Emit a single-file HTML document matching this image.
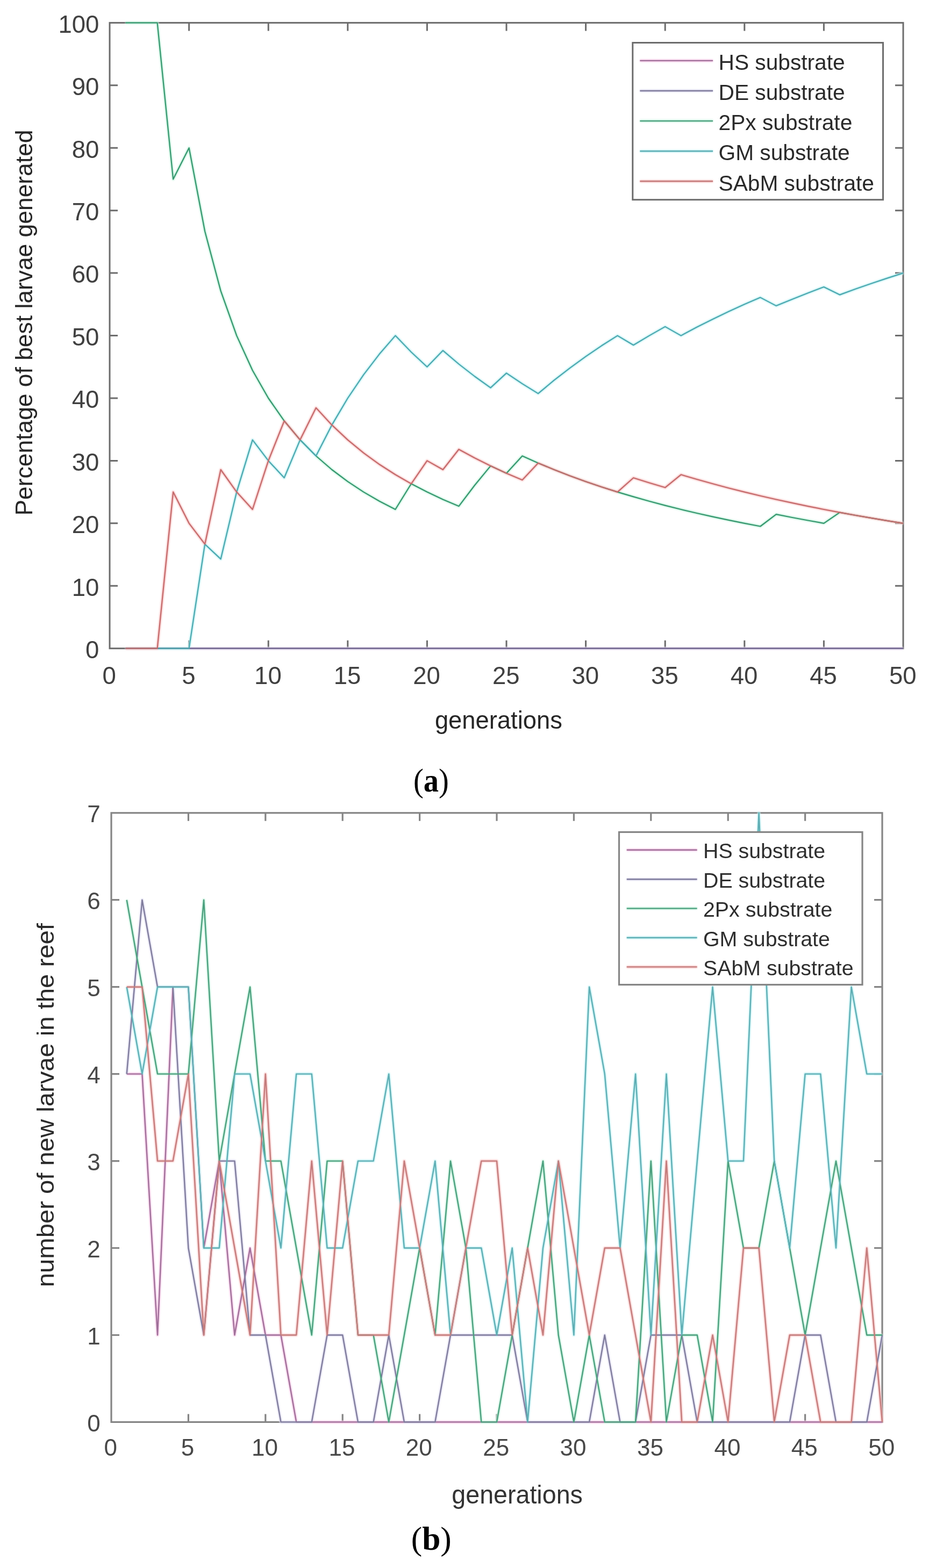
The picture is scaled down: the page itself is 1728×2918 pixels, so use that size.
<!DOCTYPE html><html><head><meta charset="utf-8"><title>Figure</title><style>html,body{margin:0;padding:0;background:#fff;}svg{display:block;}text{font-family:"Liberation Sans",Arial,sans-serif;}</style></head><body>
<svg width="1728" height="2918" viewBox="0 0 1728 2918">
<defs><filter id="hb" filterUnits="userSpaceOnUse" x="0" y="0" width="1728" height="2918"><feGaussianBlur stdDeviation="1.3"/></filter><filter id="cb" filterUnits="userSpaceOnUse" x="0" y="0" width="1728" height="2918"><feGaussianBlur stdDeviation="0.70"/></filter></defs>
<rect x="0" y="0" width="1728" height="2918" fill="#ffffff"/>
<rect x="204.0" y="42.4" width="1476.0" height="1164.3" fill="none" stroke="#6c6c6c" stroke-width="3.0"/>
<path d="M351.6 1206.7v-15.0M351.6 42.4v15.0M499.2 1206.7v-15.0M499.2 42.4v15.0M646.8 1206.7v-15.0M646.8 42.4v15.0M794.4 1206.7v-15.0M794.4 42.4v15.0M942.0 1206.7v-15.0M942.0 42.4v15.0M1089.6 1206.7v-15.0M1089.6 42.4v15.0M1237.2 1206.7v-15.0M1237.2 42.4v15.0M1384.8 1206.7v-15.0M1384.8 42.4v15.0M1532.4 1206.7v-15.0M1532.4 42.4v15.0M204.0 1090.3h15.0M1680.0 1090.3h-15.0M204.0 973.8h15.0M1680.0 973.8h-15.0M204.0 857.4h15.0M1680.0 857.4h-15.0M204.0 741.0h15.0M1680.0 741.0h-15.0M204.0 624.6h15.0M1680.0 624.6h-15.0M204.0 508.1h15.0M1680.0 508.1h-15.0M204.0 391.7h15.0M1680.0 391.7h-15.0M204.0 275.3h15.0M1680.0 275.3h-15.0M204.0 158.8h15.0M1680.0 158.8h-15.0" stroke="#6c6c6c" stroke-width="3.0" fill="none"/>
<g filter="url(#hb)">
<polyline points="233.5,1206.7 263.0,1206.7 292.6,1206.7 322.1,1206.7 351.6,1206.7 381.1,1206.7 410.6,1206.7 440.2,1206.7 469.7,1206.7 499.2,1206.7 528.7,1206.7 558.2,1206.7 587.8,1206.7 617.3,1206.7 646.8,1206.7 676.3,1206.7 705.8,1206.7 735.4,1206.7 764.9,1206.7 794.4,1206.7 823.9,1206.7 853.4,1206.7 883.0,1206.7 912.5,1206.7 942.0,1206.7 971.5,1206.7 1001.0,1206.7 1030.6,1206.7 1060.1,1206.7 1089.6,1206.7 1119.1,1206.7 1148.6,1206.7 1178.2,1206.7 1207.7,1206.7 1237.2,1206.7 1266.7,1206.7 1296.2,1206.7 1325.8,1206.7 1355.3,1206.7 1384.8,1206.7 1414.3,1206.7 1443.8,1206.7 1473.4,1206.7 1502.9,1206.7 1532.4,1206.7 1561.9,1206.7 1591.4,1206.7 1621.0,1206.7 1650.5,1206.7 1680.0,1206.7" fill="none" stroke="#f6c8e6" stroke-width="5.00" stroke-linejoin="round"/>
<polyline points="233.5,1206.7 263.0,1206.7 292.6,1206.7 322.1,1206.7 351.6,1206.7 381.1,1206.7 410.6,1206.7 440.2,1206.7 469.7,1206.7 499.2,1206.7 528.7,1206.7 558.2,1206.7 587.8,1206.7 617.3,1206.7 646.8,1206.7 676.3,1206.7 705.8,1206.7 735.4,1206.7 764.9,1206.7 794.4,1206.7 823.9,1206.7 853.4,1206.7 883.0,1206.7 912.5,1206.7 942.0,1206.7 971.5,1206.7 1001.0,1206.7 1030.6,1206.7 1060.1,1206.7 1089.6,1206.7 1119.1,1206.7 1148.6,1206.7 1178.2,1206.7 1207.7,1206.7 1237.2,1206.7 1266.7,1206.7 1296.2,1206.7 1325.8,1206.7 1355.3,1206.7 1384.8,1206.7 1414.3,1206.7 1443.8,1206.7 1473.4,1206.7 1502.9,1206.7 1532.4,1206.7 1561.9,1206.7 1591.4,1206.7 1621.0,1206.7 1650.5,1206.7 1680.0,1206.7" fill="none" stroke="#dedbf0" stroke-width="5.00" stroke-linejoin="round"/>
<polyline points="233.5,42.4 263.0,42.4 292.6,42.4 322.1,333.5 351.6,275.3 381.1,430.5 410.6,541.4 440.2,624.6 469.7,689.2 499.2,741.0 528.7,783.3 558.2,818.6 587.8,848.5 617.3,874.0 646.8,896.2 676.3,915.6 705.8,932.7 735.4,948.0 764.9,900.3 794.4,915.6 823.9,929.5 853.4,942.1 883.0,903.0 912.5,867.1 942.0,880.7 971.5,848.5 1001.0,861.7 1030.6,874.0 1060.1,885.5 1089.6,896.2 1119.1,906.2 1148.6,915.6 1178.2,924.4 1207.7,932.7 1237.2,940.6 1266.7,948.0 1296.2,955.0 1325.8,961.6 1355.3,967.9 1384.8,973.8 1414.3,979.5 1443.8,957.2 1473.4,963.0 1502.9,968.5 1532.4,973.8 1561.9,953.6 1591.4,959.0 1621.0,964.1 1650.5,969.1 1680.0,973.8" fill="none" stroke="#c4f2dc" stroke-width="5.00" stroke-linejoin="round"/>
<polyline points="233.5,1206.7 263.0,1206.7 292.6,1206.7 322.1,1206.7 351.6,1206.7 381.1,1012.7 410.6,1040.4 440.2,915.6 469.7,818.6 499.2,857.4 528.7,889.2 558.2,818.6 587.8,848.5 617.3,790.9 646.8,741.0 676.3,697.3 705.8,658.8 735.4,624.6 764.9,655.2 794.4,682.8 823.9,652.3 853.4,677.5 883.0,700.5 912.5,721.6 942.0,694.4 971.5,714.1 1001.0,732.4 1030.6,707.7 1060.1,684.8 1089.6,663.4 1119.1,643.3 1148.6,624.6 1178.2,642.2 1207.7,624.6 1237.2,607.9 1266.7,624.6 1296.2,608.8 1325.8,593.9 1355.3,579.8 1384.8,566.3 1414.3,553.6 1443.8,569.1 1473.4,556.9 1502.9,545.2 1532.4,534.0 1561.9,548.6 1591.4,537.8 1621.0,527.5 1650.5,517.6 1680.0,508.1" fill="none" stroke="#c0f0f3" stroke-width="5.00" stroke-linejoin="round"/>
<polyline points="233.5,1206.7 263.0,1206.7 292.6,1206.7 322.1,915.6 351.6,973.8 381.1,1012.7 410.6,874.0 440.2,915.6 469.7,948.0 499.2,857.4 528.7,783.3 558.2,818.6 587.8,758.9 617.3,790.9 646.8,818.6 676.3,842.9 705.8,864.3 735.4,883.3 764.9,900.3 794.4,857.4 823.9,874.0 853.4,836.2 883.0,852.3 912.5,867.1 942.0,880.7 971.5,893.2 1001.0,861.7 1030.6,874.0 1060.1,885.5 1089.6,896.2 1119.1,906.2 1148.6,915.6 1178.2,889.2 1207.7,898.5 1237.2,907.3 1266.7,883.3 1296.2,892.0 1325.8,900.3 1355.3,908.2 1384.8,915.6 1414.3,922.7 1443.8,929.5 1473.4,935.9 1502.9,942.1 1532.4,948.0 1561.9,953.6 1591.4,959.0 1621.0,964.1 1650.5,969.1 1680.0,973.8" fill="none" stroke="#f8c6c6" stroke-width="5.00" stroke-linejoin="round"/>
</g>
<polyline points="233.5,1206.7 263.0,1206.7 292.6,1206.7 322.1,1206.7 351.6,1206.7 381.1,1206.7 410.6,1206.7 440.2,1206.7 469.7,1206.7 499.2,1206.7 528.7,1206.7 558.2,1206.7 587.8,1206.7 617.3,1206.7 646.8,1206.7 676.3,1206.7 705.8,1206.7 735.4,1206.7 764.9,1206.7 794.4,1206.7 823.9,1206.7 853.4,1206.7 883.0,1206.7 912.5,1206.7 942.0,1206.7 971.5,1206.7 1001.0,1206.7 1030.6,1206.7 1060.1,1206.7 1089.6,1206.7 1119.1,1206.7 1148.6,1206.7 1178.2,1206.7 1207.7,1206.7 1237.2,1206.7 1266.7,1206.7 1296.2,1206.7 1325.8,1206.7 1355.3,1206.7 1384.8,1206.7 1414.3,1206.7 1443.8,1206.7 1473.4,1206.7 1502.9,1206.7 1532.4,1206.7 1561.9,1206.7 1591.4,1206.7 1621.0,1206.7 1650.5,1206.7 1680.0,1206.7" fill="none" stroke="#a8659a" stroke-width="2.20" stroke-linejoin="round"/>
<polyline points="233.5,1206.7 263.0,1206.7 292.6,1206.7 322.1,1206.7 351.6,1206.7 381.1,1206.7 410.6,1206.7 440.2,1206.7 469.7,1206.7 499.2,1206.7 528.7,1206.7 558.2,1206.7 587.8,1206.7 617.3,1206.7 646.8,1206.7 676.3,1206.7 705.8,1206.7 735.4,1206.7 764.9,1206.7 794.4,1206.7 823.9,1206.7 853.4,1206.7 883.0,1206.7 912.5,1206.7 942.0,1206.7 971.5,1206.7 1001.0,1206.7 1030.6,1206.7 1060.1,1206.7 1089.6,1206.7 1119.1,1206.7 1148.6,1206.7 1178.2,1206.7 1207.7,1206.7 1237.2,1206.7 1266.7,1206.7 1296.2,1206.7 1325.8,1206.7 1355.3,1206.7 1384.8,1206.7 1414.3,1206.7 1443.8,1206.7 1473.4,1206.7 1502.9,1206.7 1532.4,1206.7 1561.9,1206.7 1591.4,1206.7 1621.0,1206.7 1650.5,1206.7 1680.0,1206.7" fill="none" stroke="#6f6c92" stroke-width="2.20" stroke-linejoin="round"/>
<polyline points="233.5,42.4 263.0,42.4 292.6,42.4 322.1,333.5 351.6,275.3 381.1,430.5 410.6,541.4 440.2,624.6 469.7,689.2 499.2,741.0 528.7,783.3 558.2,818.6 587.8,848.5 617.3,874.0 646.8,896.2 676.3,915.6 705.8,932.7 735.4,948.0 764.9,900.3 794.4,915.6 823.9,929.5 853.4,942.1 883.0,903.0 912.5,867.1 942.0,880.7 971.5,848.5 1001.0,861.7 1030.6,874.0 1060.1,885.5 1089.6,896.2 1119.1,906.2 1148.6,915.6 1178.2,924.4 1207.7,932.7 1237.2,940.6 1266.7,948.0 1296.2,955.0 1325.8,961.6 1355.3,967.9 1384.8,973.8 1414.3,979.5 1443.8,957.2 1473.4,963.0 1502.9,968.5 1532.4,973.8 1561.9,953.6 1591.4,959.0 1621.0,964.1 1650.5,969.1 1680.0,973.8" fill="none" stroke="#35966e" stroke-width="2.20" stroke-linejoin="round"/>
<polyline points="233.5,1206.7 263.0,1206.7 292.6,1206.7 322.1,1206.7 351.6,1206.7 381.1,1012.7 410.6,1040.4 440.2,915.6 469.7,818.6 499.2,857.4 528.7,889.2 558.2,818.6 587.8,848.5 617.3,790.9 646.8,741.0 676.3,697.3 705.8,658.8 735.4,624.6 764.9,655.2 794.4,682.8 823.9,652.3 853.4,677.5 883.0,700.5 912.5,721.6 942.0,694.4 971.5,714.1 1001.0,732.4 1030.6,707.7 1060.1,684.8 1089.6,663.4 1119.1,643.3 1148.6,624.6 1178.2,642.2 1207.7,624.6 1237.2,607.9 1266.7,624.6 1296.2,608.8 1325.8,593.9 1355.3,579.8 1384.8,566.3 1414.3,553.6 1443.8,569.1 1473.4,556.9 1502.9,545.2 1532.4,534.0 1561.9,548.6 1591.4,537.8 1621.0,527.5 1650.5,517.6 1680.0,508.1" fill="none" stroke="#4aa7ae" stroke-width="2.20" stroke-linejoin="round"/>
<polyline points="233.5,1206.7 263.0,1206.7 292.6,1206.7 322.1,915.6 351.6,973.8 381.1,1012.7 410.6,874.0 440.2,915.6 469.7,948.0 499.2,857.4 528.7,783.3 558.2,818.6 587.8,758.9 617.3,790.9 646.8,818.6 676.3,842.9 705.8,864.3 735.4,883.3 764.9,900.3 794.4,857.4 823.9,874.0 853.4,836.2 883.0,852.3 912.5,867.1 942.0,880.7 971.5,893.2 1001.0,861.7 1030.6,874.0 1060.1,885.5 1089.6,896.2 1119.1,906.2 1148.6,915.6 1178.2,889.2 1207.7,898.5 1237.2,907.3 1266.7,883.3 1296.2,892.0 1325.8,900.3 1355.3,908.2 1384.8,915.6 1414.3,922.7 1443.8,929.5 1473.4,935.9 1502.9,942.1 1532.4,948.0 1561.9,953.6 1591.4,959.0 1621.0,964.1 1650.5,969.1 1680.0,973.8" fill="none" stroke="#c46a6b" stroke-width="2.20" stroke-linejoin="round"/>
<text x="184.3" y="1225.0" font-size="45.5" fill="#404040" text-anchor="end">0</text>
<text x="184.3" y="1108.6" font-size="45.5" fill="#404040" text-anchor="end">10</text>
<text x="184.3" y="992.1" font-size="45.5" fill="#404040" text-anchor="end">20</text>
<text x="184.3" y="875.7" font-size="45.5" fill="#404040" text-anchor="end">30</text>
<text x="184.3" y="759.3" font-size="45.5" fill="#404040" text-anchor="end">40</text>
<text x="184.3" y="642.9" font-size="45.5" fill="#404040" text-anchor="end">50</text>
<text x="184.3" y="526.4" font-size="45.5" fill="#404040" text-anchor="end">60</text>
<text x="184.3" y="410.0" font-size="45.5" fill="#404040" text-anchor="end">70</text>
<text x="184.3" y="293.6" font-size="45.5" fill="#404040" text-anchor="end">80</text>
<text x="184.3" y="177.1" font-size="45.5" fill="#404040" text-anchor="end">90</text>
<text x="184.3" y="60.7" font-size="45.5" fill="#404040" text-anchor="end">100</text>
<text x="203.2" y="1272.5" font-size="45.5" fill="#404040" text-anchor="middle">0</text>
<text x="350.8" y="1272.5" font-size="45.5" fill="#404040" text-anchor="middle">5</text>
<text x="498.4" y="1272.5" font-size="45.5" fill="#404040" text-anchor="middle">10</text>
<text x="646.0" y="1272.5" font-size="45.5" fill="#404040" text-anchor="middle">15</text>
<text x="793.6" y="1272.5" font-size="45.5" fill="#404040" text-anchor="middle">20</text>
<text x="941.2" y="1272.5" font-size="45.5" fill="#404040" text-anchor="middle">25</text>
<text x="1088.8" y="1272.5" font-size="45.5" fill="#404040" text-anchor="middle">30</text>
<text x="1236.4" y="1272.5" font-size="45.5" fill="#404040" text-anchor="middle">35</text>
<text x="1384.0" y="1272.5" font-size="45.5" fill="#404040" text-anchor="middle">40</text>
<text x="1531.6" y="1272.5" font-size="45.5" fill="#404040" text-anchor="middle">45</text>
<text x="1679.2" y="1272.5" font-size="45.5" fill="#404040" text-anchor="middle">50</text>
<rect x="1176.8" y="79.5" width="465.7" height="292.2" fill="#ffffff" stroke="#6c6c6c" stroke-width="3.0"/>
<line x1="1190.3" y1="112.9" x2="1326.1" y2="112.9" stroke="#f6c8e6" stroke-width="5.0" filter="url(#hb)"/>
<line x1="1190.3" y1="112.9" x2="1326.1" y2="112.9" stroke="#a0709a" stroke-width="2.4" filter="url(#cb)"/>
<text x="1336.5" y="130.1" font-size="40.7" fill="#2a2a2a">HS substrate</text>
<line x1="1190.3" y1="169.0" x2="1326.1" y2="169.0" stroke="#dedbf0" stroke-width="5.0" filter="url(#hb)"/>
<line x1="1190.3" y1="169.0" x2="1326.1" y2="169.0" stroke="#7f7b9c" stroke-width="2.4" filter="url(#cb)"/>
<text x="1336.5" y="186.2" font-size="40.7" fill="#2a2a2a">DE substrate</text>
<line x1="1190.3" y1="225.1" x2="1326.1" y2="225.1" stroke="#c4f2dc" stroke-width="5.0" filter="url(#hb)"/>
<line x1="1190.3" y1="225.1" x2="1326.1" y2="225.1" stroke="#4c9f7e" stroke-width="2.4" filter="url(#cb)"/>
<text x="1336.5" y="242.3" font-size="40.7" fill="#2a2a2a">2Px substrate</text>
<line x1="1190.3" y1="281.2" x2="1326.1" y2="281.2" stroke="#c0f0f3" stroke-width="5.0" filter="url(#hb)"/>
<line x1="1190.3" y1="281.2" x2="1326.1" y2="281.2" stroke="#5eaeb4" stroke-width="2.4" filter="url(#cb)"/>
<text x="1336.5" y="298.4" font-size="40.7" fill="#2a2a2a">GM substrate</text>
<line x1="1190.3" y1="337.3" x2="1326.1" y2="337.3" stroke="#f8c6c6" stroke-width="5.0" filter="url(#hb)"/>
<line x1="1190.3" y1="337.3" x2="1326.1" y2="337.3" stroke="#c47c7c" stroke-width="2.4" filter="url(#cb)"/>
<text x="1336.5" y="354.5" font-size="40.7" fill="#2a2a2a">SAbM substrate</text>
<text x="927.4" y="1355.7" font-size="47" fill="#262626" text-anchor="middle" textLength="237" lengthAdjust="spacingAndGlyphs">generations</text>
<text transform="translate(60.3 600.5) rotate(-90)" x="0" y="0" font-size="44" fill="#262626" text-anchor="middle" textLength="718" lengthAdjust="spacingAndGlyphs">Percentage of best larvae generated</text>
<text x="769" y="1472.5" font-size="62" fill="#000" textLength="65.9" lengthAdjust="spacingAndGlyphs" style="font-family:'Liberation Serif',serif">(<tspan font-weight="bold">a</tspan>)</text>
<rect x="207.0" y="1512.8" width="1434.0" height="1133.6" fill="none" stroke="#858585" stroke-width="3.2"/>
<path d="M350.4 2646.4v-15.0M350.4 1512.8v15.0M493.8 2646.4v-15.0M493.8 1512.8v15.0M637.2 2646.4v-15.0M637.2 1512.8v15.0M780.6 2646.4v-15.0M780.6 1512.8v15.0M924.0 2646.4v-15.0M924.0 1512.8v15.0M1067.4 2646.4v-15.0M1067.4 1512.8v15.0M1210.8 2646.4v-15.0M1210.8 1512.8v15.0M1354.2 2646.4v-15.0M1354.2 1512.8v15.0M1497.6 2646.4v-15.0M1497.6 1512.8v15.0M207.0 2484.5h15.0M1641.0 2484.5h-15.0M207.0 2322.5h15.0M1641.0 2322.5h-15.0M207.0 2160.6h15.0M1641.0 2160.6h-15.0M207.0 1998.6h15.0M1641.0 1998.6h-15.0M207.0 1836.7h15.0M1641.0 1836.7h-15.0M207.0 1674.7h15.0M1641.0 1674.7h-15.0" stroke="#858585" stroke-width="3.2" fill="none"/>
<g filter="url(#hb)">
<polyline points="235.7,1998.6 264.4,1998.6 293.0,2484.5 321.7,1836.7 350.4,1836.7 379.1,2322.5 407.8,2160.6 436.4,2484.5 465.1,2322.5 493.8,2484.5 522.5,2484.5 551.2,2646.4 579.8,2646.4 608.5,2646.4 637.2,2646.4 665.9,2646.4 694.6,2646.4 723.2,2646.4 751.9,2646.4 780.6,2646.4 809.3,2646.4 838.0,2646.4 866.6,2646.4 895.3,2646.4 924.0,2646.4 952.7,2646.4 981.4,2646.4 1010.0,2646.4 1038.7,2646.4 1067.4,2646.4 1096.1,2646.4 1124.8,2646.4 1153.4,2646.4 1182.1,2646.4 1210.8,2646.4 1239.5,2646.4 1268.2,2646.4 1296.8,2646.4 1325.5,2646.4 1354.2,2646.4 1382.9,2646.4 1411.6,2646.4 1440.2,2646.4 1468.9,2646.4 1497.6,2646.4 1526.3,2646.4 1555.0,2646.4 1583.6,2646.4 1612.3,2646.4 1641.0,2646.4" fill="none" stroke="#f6c8e6" stroke-width="5.00" stroke-linejoin="round"/>
<polyline points="235.7,1998.6 264.4,1674.7 293.0,1836.7 321.7,1836.7 350.4,2322.5 379.1,2484.5 407.8,2160.6 436.4,2160.6 465.1,2484.5 493.8,2484.5 522.5,2646.4 551.2,2646.4 579.8,2646.4 608.5,2484.5 637.2,2484.5 665.9,2646.4 694.6,2646.4 723.2,2484.5 751.9,2646.4 780.6,2646.4 809.3,2646.4 838.0,2484.5 866.6,2484.5 895.3,2484.5 924.0,2484.5 952.7,2484.5 981.4,2646.4 1010.0,2646.4 1038.7,2646.4 1067.4,2646.4 1096.1,2646.4 1124.8,2484.5 1153.4,2646.4 1182.1,2646.4 1210.8,2484.5 1239.5,2484.5 1268.2,2484.5 1296.8,2646.4 1325.5,2646.4 1354.2,2646.4 1382.9,2646.4 1411.6,2646.4 1440.2,2646.4 1468.9,2646.4 1497.6,2484.5 1526.3,2484.5 1555.0,2646.4 1583.6,2646.4 1612.3,2646.4 1641.0,2484.5" fill="none" stroke="#dedbf0" stroke-width="5.00" stroke-linejoin="round"/>
<polyline points="235.7,1674.7 264.4,1836.7 293.0,1998.6 321.7,1998.6 350.4,1998.6 379.1,1674.7 407.8,2160.6 436.4,1998.6 465.1,1836.7 493.8,2160.6 522.5,2160.6 551.2,2322.5 579.8,2484.5 608.5,2160.6 637.2,2160.6 665.9,2484.5 694.6,2484.5 723.2,2646.4 751.9,2484.5 780.6,2322.5 809.3,2484.5 838.0,2160.6 866.6,2322.5 895.3,2646.4 924.0,2646.4 952.7,2484.5 981.4,2322.5 1010.0,2160.6 1038.7,2484.5 1067.4,2646.4 1096.1,2484.5 1124.8,2646.4 1153.4,2646.4 1182.1,2646.4 1210.8,2160.6 1239.5,2646.4 1268.2,2484.5 1296.8,2484.5 1325.5,2646.4 1354.2,2160.6 1382.9,2322.5 1411.6,2322.5 1440.2,2160.6 1468.9,2322.5 1497.6,2484.5 1526.3,2322.5 1555.0,2160.6 1583.6,2322.5 1612.3,2484.5 1641.0,2484.5" fill="none" stroke="#c4f2dc" stroke-width="5.00" stroke-linejoin="round"/>
<polyline points="235.7,1836.7 264.4,1998.6 293.0,1836.7 321.7,1836.7 350.4,1836.7 379.1,2322.5 407.8,2322.5 436.4,1998.6 465.1,1998.6 493.8,2160.6 522.5,2322.5 551.2,1998.6 579.8,1998.6 608.5,2322.5 637.2,2322.5 665.9,2160.6 694.6,2160.6 723.2,1998.6 751.9,2322.5 780.6,2322.5 809.3,2160.6 838.0,2484.5 866.6,2322.5 895.3,2322.5 924.0,2484.5 952.7,2322.5 981.4,2646.4 1010.0,2322.5 1038.7,2160.6 1067.4,2484.5 1096.1,1836.7 1124.8,1998.6 1153.4,2322.5 1182.1,1998.6 1210.8,2484.5 1239.5,1998.6 1268.2,2484.5 1296.8,2160.6 1325.5,1836.7 1354.2,2160.6 1382.9,2160.6 1411.6,1512.8 1440.2,2160.6 1468.9,2322.5 1497.6,1998.6 1526.3,1998.6 1555.0,2322.5 1583.6,1836.7 1612.3,1998.6 1641.0,1998.6" fill="none" stroke="#c0f0f3" stroke-width="5.00" stroke-linejoin="round"/>
<polyline points="235.7,1836.7 264.4,1836.7 293.0,2160.6 321.7,2160.6 350.4,1998.6 379.1,2484.5 407.8,2160.6 436.4,2322.5 465.1,2484.5 493.8,1998.6 522.5,2484.5 551.2,2484.5 579.8,2160.6 608.5,2484.5 637.2,2160.6 665.9,2484.5 694.6,2484.5 723.2,2484.5 751.9,2160.6 780.6,2322.5 809.3,2484.5 838.0,2484.5 866.6,2322.5 895.3,2160.6 924.0,2160.6 952.7,2484.5 981.4,2322.5 1010.0,2484.5 1038.7,2160.6 1067.4,2322.5 1096.1,2484.5 1124.8,2322.5 1153.4,2322.5 1182.1,2484.5 1210.8,2646.4 1239.5,2160.6 1268.2,2646.4 1296.8,2646.4 1325.5,2484.5 1354.2,2646.4 1382.9,2322.5 1411.6,2322.5 1440.2,2646.4 1468.9,2484.5 1497.6,2484.5 1526.3,2646.4 1555.0,2646.4 1583.6,2646.4 1612.3,2322.5 1641.0,2646.4" fill="none" stroke="#f8c6c6" stroke-width="5.00" stroke-linejoin="round"/>
</g>
<g filter="url(#cb)">
<polyline points="235.7,1998.6 264.4,1998.6 293.0,2484.5 321.7,1836.7 350.4,1836.7 379.1,2322.5 407.8,2160.6 436.4,2484.5 465.1,2322.5 493.8,2484.5 522.5,2484.5 551.2,2646.4 579.8,2646.4 608.5,2646.4 637.2,2646.4 665.9,2646.4 694.6,2646.4 723.2,2646.4 751.9,2646.4 780.6,2646.4 809.3,2646.4 838.0,2646.4 866.6,2646.4 895.3,2646.4 924.0,2646.4 952.7,2646.4 981.4,2646.4 1010.0,2646.4 1038.7,2646.4 1067.4,2646.4 1096.1,2646.4 1124.8,2646.4 1153.4,2646.4 1182.1,2646.4 1210.8,2646.4 1239.5,2646.4 1268.2,2646.4 1296.8,2646.4 1325.5,2646.4 1354.2,2646.4 1382.9,2646.4 1411.6,2646.4 1440.2,2646.4 1468.9,2646.4 1497.6,2646.4 1526.3,2646.4 1555.0,2646.4 1583.6,2646.4 1612.3,2646.4 1641.0,2646.4" fill="none" stroke="#a0709a" stroke-width="2.40" stroke-linejoin="round"/>
<polyline points="235.7,1998.6 264.4,1674.7 293.0,1836.7 321.7,1836.7 350.4,2322.5 379.1,2484.5 407.8,2160.6 436.4,2160.6 465.1,2484.5 493.8,2484.5 522.5,2646.4 551.2,2646.4 579.8,2646.4 608.5,2484.5 637.2,2484.5 665.9,2646.4 694.6,2646.4 723.2,2484.5 751.9,2646.4 780.6,2646.4 809.3,2646.4 838.0,2484.5 866.6,2484.5 895.3,2484.5 924.0,2484.5 952.7,2484.5 981.4,2646.4 1010.0,2646.4 1038.7,2646.4 1067.4,2646.4 1096.1,2646.4 1124.8,2484.5 1153.4,2646.4 1182.1,2646.4 1210.8,2484.5 1239.5,2484.5 1268.2,2484.5 1296.8,2646.4 1325.5,2646.4 1354.2,2646.4 1382.9,2646.4 1411.6,2646.4 1440.2,2646.4 1468.9,2646.4 1497.6,2484.5 1526.3,2484.5 1555.0,2646.4 1583.6,2646.4 1612.3,2646.4 1641.0,2484.5" fill="none" stroke="#7f7b9c" stroke-width="2.40" stroke-linejoin="round"/>
<polyline points="235.7,1674.7 264.4,1836.7 293.0,1998.6 321.7,1998.6 350.4,1998.6 379.1,1674.7 407.8,2160.6 436.4,1998.6 465.1,1836.7 493.8,2160.6 522.5,2160.6 551.2,2322.5 579.8,2484.5 608.5,2160.6 637.2,2160.6 665.9,2484.5 694.6,2484.5 723.2,2646.4 751.9,2484.5 780.6,2322.5 809.3,2484.5 838.0,2160.6 866.6,2322.5 895.3,2646.4 924.0,2646.4 952.7,2484.5 981.4,2322.5 1010.0,2160.6 1038.7,2484.5 1067.4,2646.4 1096.1,2484.5 1124.8,2646.4 1153.4,2646.4 1182.1,2646.4 1210.8,2160.6 1239.5,2646.4 1268.2,2484.5 1296.8,2484.5 1325.5,2646.4 1354.2,2160.6 1382.9,2322.5 1411.6,2322.5 1440.2,2160.6 1468.9,2322.5 1497.6,2484.5 1526.3,2322.5 1555.0,2160.6 1583.6,2322.5 1612.3,2484.5 1641.0,2484.5" fill="none" stroke="#4c9f7e" stroke-width="2.40" stroke-linejoin="round"/>
<polyline points="235.7,1836.7 264.4,1998.6 293.0,1836.7 321.7,1836.7 350.4,1836.7 379.1,2322.5 407.8,2322.5 436.4,1998.6 465.1,1998.6 493.8,2160.6 522.5,2322.5 551.2,1998.6 579.8,1998.6 608.5,2322.5 637.2,2322.5 665.9,2160.6 694.6,2160.6 723.2,1998.6 751.9,2322.5 780.6,2322.5 809.3,2160.6 838.0,2484.5 866.6,2322.5 895.3,2322.5 924.0,2484.5 952.7,2322.5 981.4,2646.4 1010.0,2322.5 1038.7,2160.6 1067.4,2484.5 1096.1,1836.7 1124.8,1998.6 1153.4,2322.5 1182.1,1998.6 1210.8,2484.5 1239.5,1998.6 1268.2,2484.5 1296.8,2160.6 1325.5,1836.7 1354.2,2160.6 1382.9,2160.6 1411.6,1512.8 1440.2,2160.6 1468.9,2322.5 1497.6,1998.6 1526.3,1998.6 1555.0,2322.5 1583.6,1836.7 1612.3,1998.6 1641.0,1998.6" fill="none" stroke="#5eaeb4" stroke-width="2.40" stroke-linejoin="round"/>
<polyline points="235.7,1836.7 264.4,1836.7 293.0,2160.6 321.7,2160.6 350.4,1998.6 379.1,2484.5 407.8,2160.6 436.4,2322.5 465.1,2484.5 493.8,1998.6 522.5,2484.5 551.2,2484.5 579.8,2160.6 608.5,2484.5 637.2,2160.6 665.9,2484.5 694.6,2484.5 723.2,2484.5 751.9,2160.6 780.6,2322.5 809.3,2484.5 838.0,2484.5 866.6,2322.5 895.3,2160.6 924.0,2160.6 952.7,2484.5 981.4,2322.5 1010.0,2484.5 1038.7,2160.6 1067.4,2322.5 1096.1,2484.5 1124.8,2322.5 1153.4,2322.5 1182.1,2484.5 1210.8,2646.4 1239.5,2160.6 1268.2,2646.4 1296.8,2646.4 1325.5,2484.5 1354.2,2646.4 1382.9,2322.5 1411.6,2322.5 1440.2,2646.4 1468.9,2484.5 1497.6,2484.5 1526.3,2646.4 1555.0,2646.4 1583.6,2646.4 1612.3,2322.5 1641.0,2646.4" fill="none" stroke="#c47c7c" stroke-width="2.40" stroke-linejoin="round"/>
</g>
<text x="186.8" y="2663.9" font-size="44.0" fill="#484848" text-anchor="end">0</text>
<text x="186.8" y="2502.0" font-size="44.0" fill="#484848" text-anchor="end">1</text>
<text x="186.8" y="2340.0" font-size="44.0" fill="#484848" text-anchor="end">2</text>
<text x="186.8" y="2178.1" font-size="44.0" fill="#484848" text-anchor="end">3</text>
<text x="186.8" y="2016.1" font-size="44.0" fill="#484848" text-anchor="end">4</text>
<text x="186.8" y="1854.2" font-size="44.0" fill="#484848" text-anchor="end">5</text>
<text x="186.8" y="1692.2" font-size="44.0" fill="#484848" text-anchor="end">6</text>
<text x="186.8" y="1530.3" font-size="44.0" fill="#484848" text-anchor="end">7</text>
<text x="205.7" y="2709.3" font-size="44.0" fill="#484848" text-anchor="middle">0</text>
<text x="349.1" y="2709.3" font-size="44.0" fill="#484848" text-anchor="middle">5</text>
<text x="492.5" y="2709.3" font-size="44.0" fill="#484848" text-anchor="middle">10</text>
<text x="635.9" y="2709.3" font-size="44.0" fill="#484848" text-anchor="middle">15</text>
<text x="779.3" y="2709.3" font-size="44.0" fill="#484848" text-anchor="middle">20</text>
<text x="922.7" y="2709.3" font-size="44.0" fill="#484848" text-anchor="middle">25</text>
<text x="1066.1" y="2709.3" font-size="44.0" fill="#484848" text-anchor="middle">30</text>
<text x="1209.5" y="2709.3" font-size="44.0" fill="#484848" text-anchor="middle">35</text>
<text x="1352.9" y="2709.3" font-size="44.0" fill="#484848" text-anchor="middle">40</text>
<text x="1496.3" y="2709.3" font-size="44.0" fill="#484848" text-anchor="middle">45</text>
<text x="1639.7" y="2709.3" font-size="44.0" fill="#484848" text-anchor="middle">50</text>
<rect x="1151.5" y="1548.5" width="452.5" height="284.0" fill="#ffffff" stroke="#858585" stroke-width="3.2"/>
<line x1="1165.7" y1="1581.8" x2="1296.6" y2="1581.8" stroke="#f6c8e6" stroke-width="5.0" filter="url(#hb)"/>
<line x1="1165.7" y1="1581.8" x2="1296.6" y2="1581.8" stroke="#a0709a" stroke-width="2.4" filter="url(#cb)"/>
<text x="1308" y="1597.3" font-size="39.3" fill="#2e2e2e">HS substrate</text>
<line x1="1165.7" y1="1636.2" x2="1296.6" y2="1636.2" stroke="#dedbf0" stroke-width="5.0" filter="url(#hb)"/>
<line x1="1165.7" y1="1636.2" x2="1296.6" y2="1636.2" stroke="#7f7b9c" stroke-width="2.4" filter="url(#cb)"/>
<text x="1308" y="1651.7" font-size="39.3" fill="#2e2e2e">DE substrate</text>
<line x1="1165.7" y1="1690.6" x2="1296.6" y2="1690.6" stroke="#c4f2dc" stroke-width="5.0" filter="url(#hb)"/>
<line x1="1165.7" y1="1690.6" x2="1296.6" y2="1690.6" stroke="#4c9f7e" stroke-width="2.4" filter="url(#cb)"/>
<text x="1308" y="1706.1" font-size="39.3" fill="#2e2e2e">2Px substrate</text>
<line x1="1165.7" y1="1745.0" x2="1296.6" y2="1745.0" stroke="#c0f0f3" stroke-width="5.0" filter="url(#hb)"/>
<line x1="1165.7" y1="1745.0" x2="1296.6" y2="1745.0" stroke="#5eaeb4" stroke-width="2.4" filter="url(#cb)"/>
<text x="1308" y="1760.5" font-size="39.3" fill="#2e2e2e">GM substrate</text>
<line x1="1165.7" y1="1799.4" x2="1296.6" y2="1799.4" stroke="#f8c6c6" stroke-width="5.0" filter="url(#hb)"/>
<line x1="1165.7" y1="1799.4" x2="1296.6" y2="1799.4" stroke="#c47c7c" stroke-width="2.4" filter="url(#cb)"/>
<text x="1308" y="1814.9" font-size="39.3" fill="#2e2e2e">SAbM substrate</text>
<text x="962.1" y="2798.2" font-size="48" fill="#333333" text-anchor="middle" textLength="243.5" lengthAdjust="spacingAndGlyphs">generations</text>
<text transform="translate(99.8 2056.7) rotate(-90)" x="0" y="0" font-size="45" fill="#2a2a2a" text-anchor="middle" textLength="677" lengthAdjust="spacingAndGlyphs">number of new larvae in the reef</text>
<text x="764.8" y="2883.5" font-size="62" fill="#000" textLength="75" lengthAdjust="spacingAndGlyphs" style="font-family:'Liberation Serif',serif">(<tspan font-weight="bold">b</tspan>)</text>
</svg></body></html>
